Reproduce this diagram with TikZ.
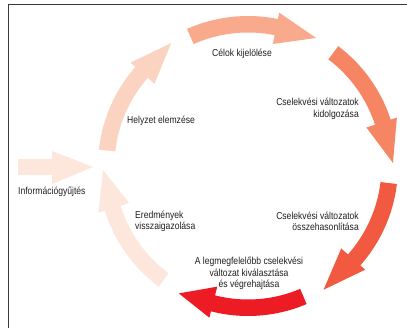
\documentclass[tikz,border=0pt]{standalone}
\usepackage{fontspec}
\setmainfont{Liberation Sans}[FakeStretch=0.85]
\definecolor{cA}{HTML}{FBD3C1}
\definecolor{cB}{HTML}{F9AA8C}
\definecolor{cC}{HTML}{F58563}
\definecolor{cD}{HTML}{F15A40}
\definecolor{cE}{HTML}{ED1C24}
\definecolor{cF}{HTML}{FDE6DB}
\definecolor{txt}{HTML}{231F20}
\definecolor{frame}{HTML}{3A3A3A}
\newcommand\ringarrow[4]{%
  \fill[#4] (#1:150) arc[start angle=#1, end angle=#2, radius=150]
    -- (#2:156.5) -- (#3:145) -- (#2:124.5) -- (#2:133.5)
    arc[start angle=#2, end angle=#1, radius=133.5] -- cycle;}
\begin{document}
\begin{tikzpicture}[x=1pt,y=1pt,
  lbl/.style={inner sep=0pt, text=txt, font=\fontsize{10.1}{11.4}\selectfont}]
\useasboundingbox (0,0) rectangle (407,328);
\fill[white] (0,0) rectangle (407,328);
% frame (top and left)
\draw[frame, line width=1.2pt] (8.5,0) -- (8.5,323.5) -- (407,323.5);
% cycle arrows
\begin{scope}[shift={(248,162)}]
  \ringarrow{173.7}{138.7}{122}{cA}
  \ringarrow{114}{78.5}{62}{cB}
  \ringarrow{53}{18}{1.2}{cC}
  \ringarrow{-6.9}{-41.5}{-58.6}{cD}
  \ringarrow{-67}{-104.3}{-118.5}{cE}
  \ringarrow{-126.5}{-162.7}{-178.4}{cF}
\end{scope}
% information input arrow
\fill[cF] (18,153) -- (52,153) -- (52,144) -- (93,161) -- (52,177) -- (52,169) -- (18,169) -- cycle;
% labels
\node[lbl] (celok) at (242,274) {Célok kijelölése};
\node[lbl] (helyzet) at (161,207) {Helyzet elemzése};
\node[lbl, anchor=east, align=right] (kidolg) at (359,219) {Cselekvési változatok\\kidolgozása};
\node[lbl, anchor=east, align=right] (ossze) at (359,106.5) {Cselekvési változatok\\összehasonlítása};
\node[lbl, align=center] (legm) at (249,54.5) {A legmegfelelőbb cselekvési\\változat kiválasztása\\és végrehajtása};
\node[lbl, anchor=west, align=left] (eredm) at (135,106.5) {Eredmények\\visszaigazolása};
\node[lbl, anchor=west] (info) at (18,136) {Információgyűjtés};
\end{tikzpicture}
\end{document}
